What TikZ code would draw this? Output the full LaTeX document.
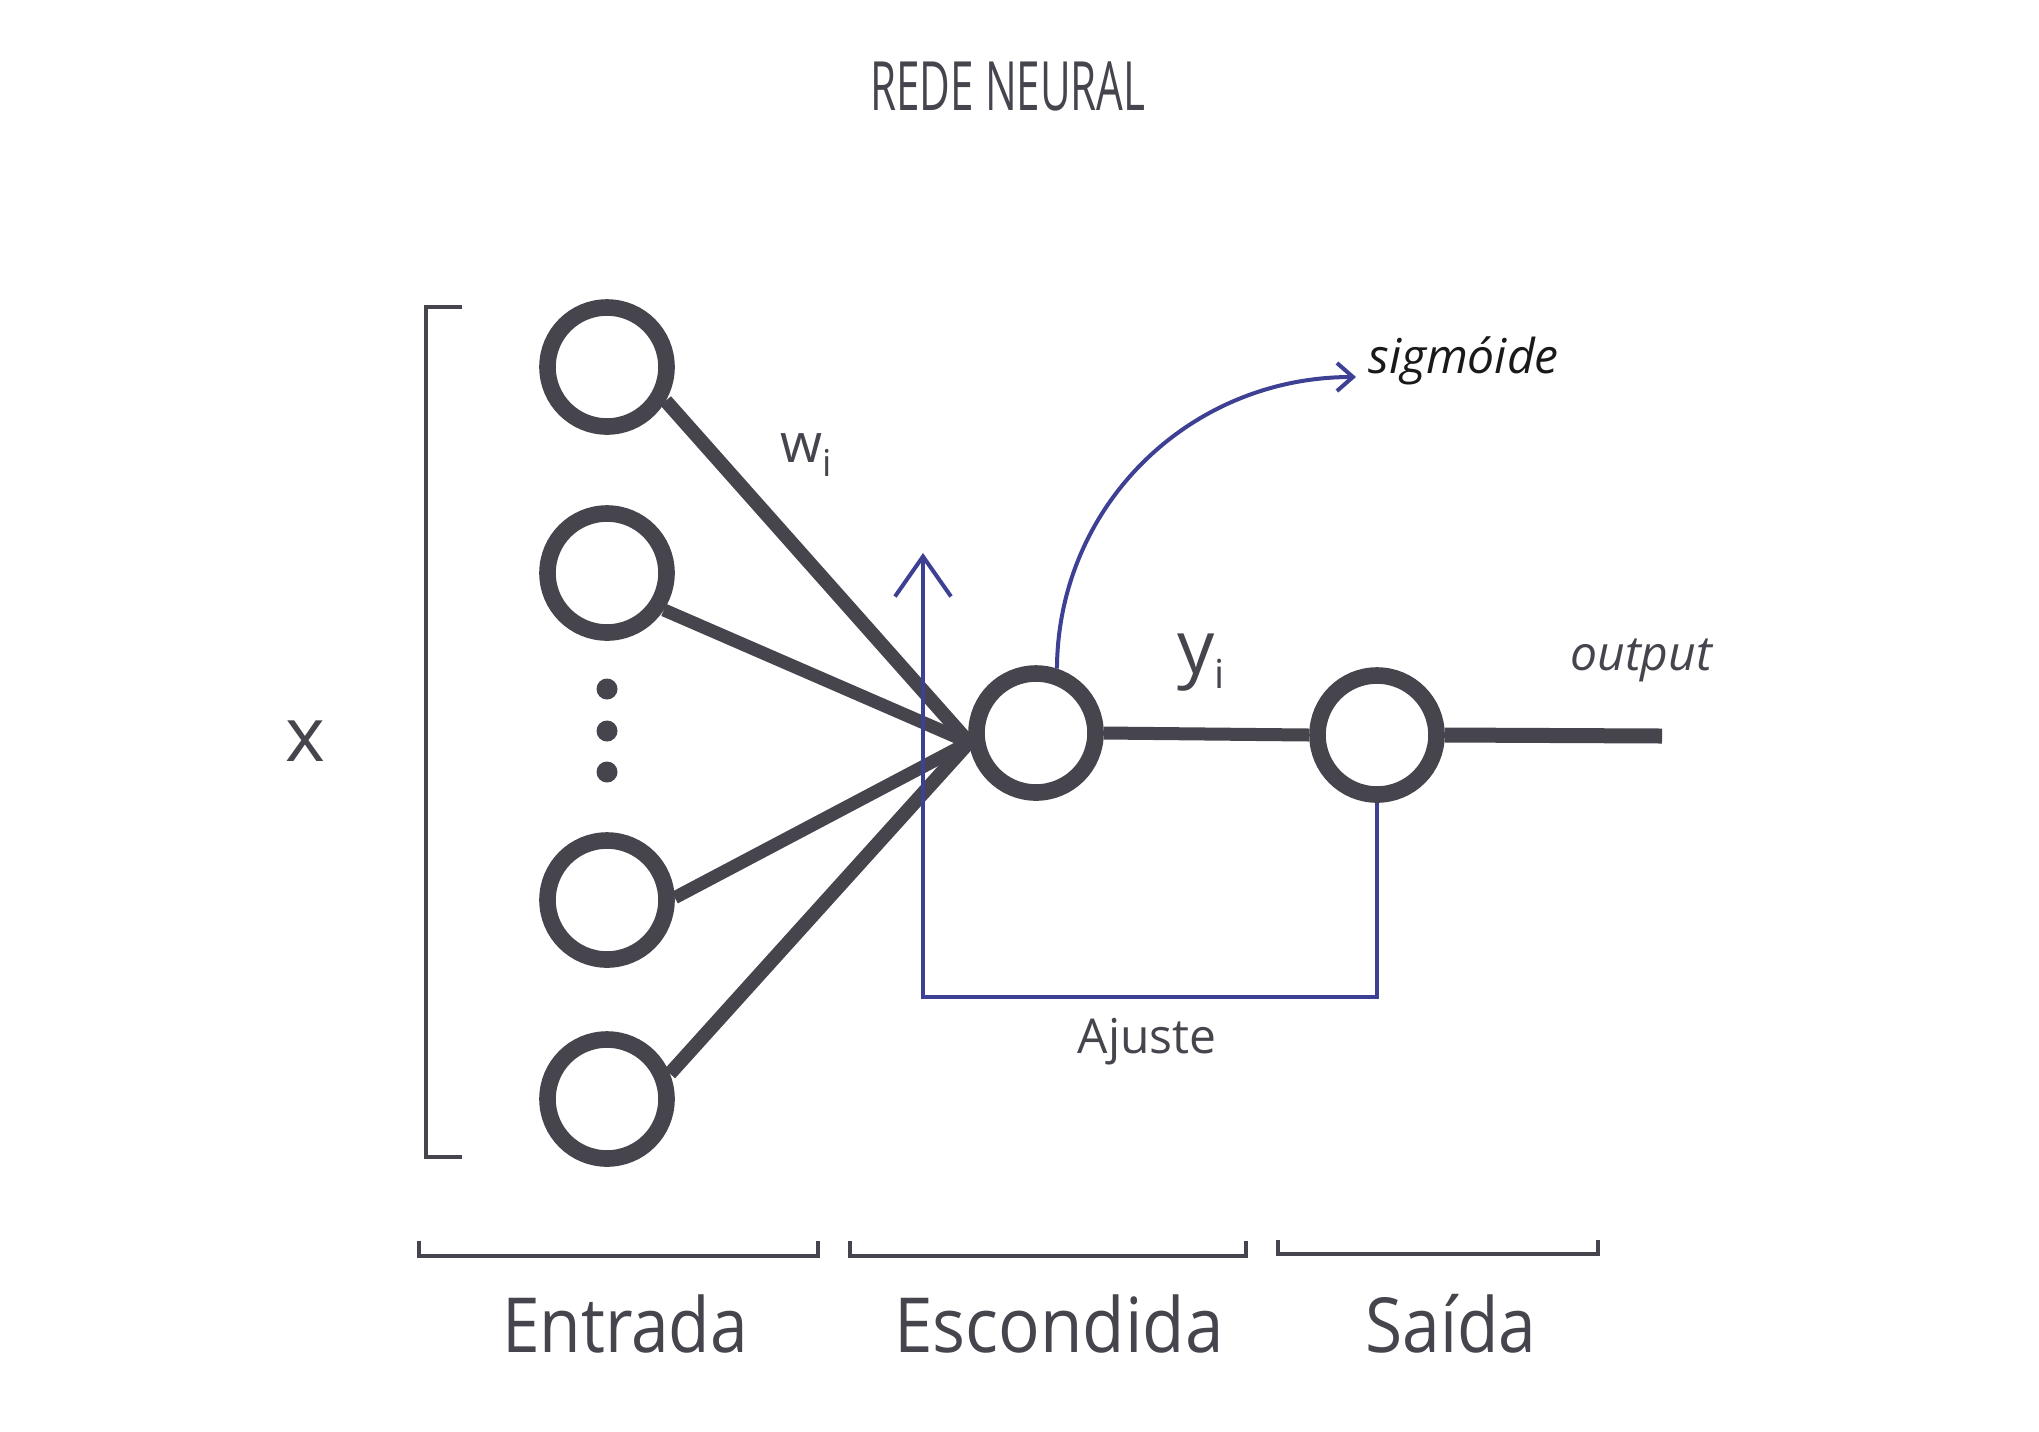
\documentclass[tikz,border=0pt]{standalone}
\usepackage{graphicx}
\usepackage{fontspec}
\setmainfont{Open Sans}
\usetikzlibrary{arrows.meta}
\definecolor{dk}{RGB}{70,68,77}
\definecolor{bl}{RGB}{62,64,148}
\newcommand\myfs[1]{\fontsize{#1}{#1}\selectfont}
\begin{document}
\begin{tikzpicture}[x=0.5pt,y=-0.5pt,
  neuron/.style={circle,draw=dk,line width=8.3pt,minimum size=59.5pt,inner sep=0pt},
  dotn/.style={circle,fill=dk,minimum size=10.5pt,inner sep=0pt},
  link/.style={draw=dk,line width=7pt},
  fb/.style={draw=bl,line width=2pt},
  lbl/.style={text=dk,inner sep=0pt},
  brk/.style={draw=dk,line width=2pt}]
\fill[white] (0,0) rectangle (2039,1431);
\useasboundingbox (0,0) rectangle (2039,1431);

% title
\node[lbl] (title) at (1008,86) {\myfs{34}\scalebox{0.62}[1]{REDE NEURAL}};

% input neurons
\node[neuron] (in1) at (607,367) {};
\node[neuron] (in2) at (607,573) {};
\node[neuron] (in3) at (607,900) {};
\node[neuron] (in4) at (607,1099) {};
\node[dotn] (d1) at (607,689) {};
\node[dotn] (d2) at (607,731) {};
\node[dotn] (d3) at (607,772) {};

% hidden and output neurons
\node[neuron] (hid) at (1036,733) {};
\node[neuron] (out) at (1377,735) {};
\coordinate (outend) at (1662,736);

% connections
\draw[link] (in1.-30) -- (hid.188);
\draw[link,line width=6.5pt] (in2.-33) -- (hid.188);
\draw[link,line width=6.5pt] (in3.2) -- (hid.188);
\draw[link] (in4.22) -- (hid.188);
\draw[link,line width=6.5pt] (hid.east) -- (out.west);
\draw[link,line width=7.5pt] (out.east) -- (outend);

% feedback (Ajuste)
\coordinate (fbtop) at (923,553);
\coordinate (fbbot) at (923,997);
\draw[fb,-{Straight Barb[length=20pt,width=28pt]}] (out.south) |- (fbbot) -- (fbtop);

% sigmoid arrow
\coordinate (sigend) at (1356,377);
\draw[fb,-{Straight Barb[length=8pt,width=14pt]}] (hid.72) .. controls (1058,505) and (1190,377) .. (sigend);

% labels
\node[lbl,anchor=base west] (wl) at (780,462) {\myfs{27}w\raisebox{-7pt}{\myfs{18.5}i}};
\node[lbl,anchor=base west] (yl) at (1177,673) {\myfs{37}y\raisebox{-7.5pt}{\myfs{20}i}};
\node[anchor=base west,inner sep=0pt,text=black!90] (sig) at (1368,373) {\myfs{24}\itshape sigmóide};
\node[lbl,anchor=base west] (outl) at (1570,670) {\myfs{24}\itshape output};
\node[lbl,anchor=base] (aj) at (1147,1053) {\myfs{24}Ajuste};
\node[lbl,anchor=base] (xl) at (305,761) {\myfs{38}x};

% left bracket
\draw[brk] (462,307) -- (426,307) -- (426,1157) -- (462,1157);

% bottom brackets
\draw[brk] (419,1241) |- (818,1256) -- (818,1241);
\draw[brk] (850,1241) |- (1246,1256) -- (1246,1241);
\draw[brk] (1278,1240) |- (1598,1254) -- (1598,1240);

\node[lbl,anchor=base] (ent) at (625,1352) {\myfs{38}\scalebox{0.89}[1]{Entrada}};
\node[lbl,anchor=base] (esc) at (1059,1352) {\myfs{38}\scalebox{0.91}[1]{Escondida}};
\node[lbl,anchor=base] (sai) at (1451,1352) {\myfs{38}\scalebox{0.89}[1]{Saída}};
\end{tikzpicture}
\end{document}
